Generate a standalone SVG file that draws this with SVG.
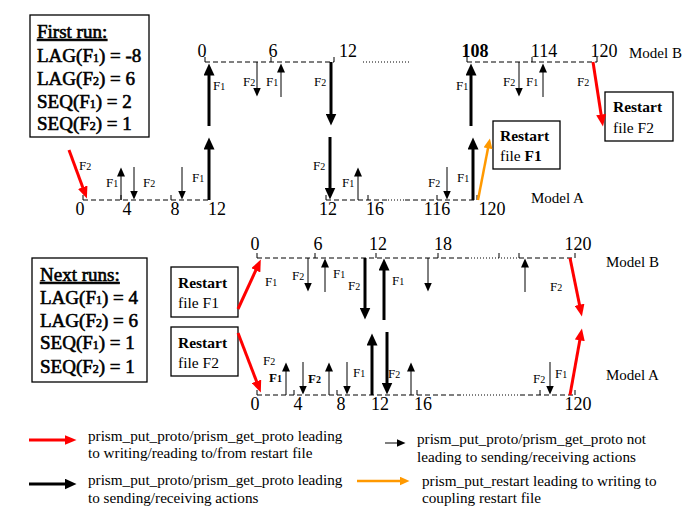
<svg xmlns="http://www.w3.org/2000/svg" width="691" height="518" viewBox="0 0 691 518">
<style>
text{font-family:"Liberation Serif","Times New Roman",serif;fill:#000}
.box{fill:#fff;stroke:#000;stroke-width:1.3}
.bt{font-size:19px;stroke:#000;stroke-width:0.6}
.sub{font-size:12px}
.ax{stroke:#000;stroke-width:1;stroke-dasharray:5,3;fill:none}
.dot{stroke:#000;stroke-width:1;stroke-dasharray:1,2;fill:none}
.tk{stroke:#000;stroke-width:1;fill:none}
.num{font-size:18px;text-anchor:middle}
.lbl{font-size:13px}
.ls{font-size:10px}
.mdl{font-size:15px}
.rs{font-size:15.5px}
.lg{font-size:15.2px}
.thick{stroke:#000;stroke-width:3;fill:none;marker-end:url(#hk)}
.thin{stroke:#000;stroke-width:1;fill:none;marker-end:url(#hn)}
.red{stroke:#f00;stroke-width:3;fill:none;marker-end:url(#hr)}
.org{stroke:#f90;stroke-width:2.5;fill:none;marker-end:url(#ho)}
</style>
<defs>
<marker id="hk" markerUnits="userSpaceOnUse" markerWidth="13" markerHeight="11" refX="0.5" refY="5.5" orient="auto"><path d="M0,0 L12,5.5 L0,11 z" fill="#000"/></marker>
<marker id="hn" markerUnits="userSpaceOnUse" markerWidth="10" markerHeight="8" refX="0.5" refY="4" orient="auto"><path d="M0,0 L9,4 L0,8 z" fill="#000"/></marker>
<marker id="hr" markerUnits="userSpaceOnUse" markerWidth="13" markerHeight="10" refX="0.5" refY="5" orient="auto"><path d="M0,0 L12,5 L0,10 z" fill="#f00"/></marker>
<marker id="ho" markerUnits="userSpaceOnUse" markerWidth="11" markerHeight="9" refX="0.5" refY="4.5" orient="auto"><path d="M0,0 L10,4.5 L0,9 z" fill="#f90"/></marker>
</defs>

<g id="first-run-box">
<rect class="box" x="30" y="15" width="119" height="122"/>
<text class="bt" x="37" y="38" text-decoration="underline">First run:</text>
<text class="bt" x="37" y="62">LAG(F<tspan class="sub">1</tspan>) = -8</text>
<text class="bt" x="37" y="85">LAG(F<tspan class="sub">2</tspan>) = 6</text>
<text class="bt" x="37" y="108">SEQ(F<tspan class="sub">1</tspan>) = 2</text>
<text class="bt" x="37" y="130">SEQ(F<tspan class="sub">2</tspan>) = 1</text>
</g>

<g id="next-runs-box">
<rect class="box" x="32" y="258" width="115" height="124"/>
<text class="bt" x="40" y="281" text-decoration="underline">Next runs:</text>
<text class="bt" x="40" y="304">LAG(F<tspan class="sub">1</tspan>) = 4</text>
<text class="bt" x="40" y="327">LAG(F<tspan class="sub">2</tspan>) = 6</text>
<text class="bt" x="40" y="349">SEQ(F<tspan class="sub">1</tspan>) = 1</text>
<text class="bt" x="40" y="373">SEQ(F<tspan class="sub">2</tspan>) = 1</text>
</g>

<g id="restart-f1-top">
<rect class="box" x="493" y="121" width="67" height="48"/>
<text class="rs" x="500" y="141" font-weight="bold">Restart</text>
<text class="rs" x="500" y="161">file <tspan font-weight="bold">F1</tspan></text>
</g>
<g id="restart-f2-top">
<rect class="box" x="605" y="92" width="68" height="49"/>
<text class="rs" x="613" y="112" font-weight="bold">Restart</text>
<text class="rs" x="613" y="133">file F2</text>
</g>
<g id="restart-f1-bottom">
<rect class="box" x="171" y="267" width="67" height="50"/>
<text class="rs" x="178" y="288" font-weight="bold">Restart</text>
<text class="rs" x="178" y="308">file F1</text>
</g>
<g id="restart-f2-bottom">
<rect class="box" x="171" y="327" width="67" height="49"/>
<text class="rs" x="178" y="348" font-weight="bold">Restart</text>
<text class="rs" x="178" y="368">file F2</text>
</g>

<g id="axis-top-b">
<line class="ax" x1="205" y1="62" x2="334" y2="62"/>
<line class="dot" x1="363" y1="62" x2="410" y2="62"/>
<line class="ax" x1="467" y1="62" x2="597" y2="62"/>
<path class="tk" d="M205,57V62M271,57V62M334,57V62M467,57V62M532,57V62M597,57V62"/>
<text class="num" x="202" y="57">0</text>
<text class="num" x="273" y="57">6</text>
<text class="num" x="348" y="57">12</text>
<text class="num" x="475" y="57" font-weight="bold">108</text>
<text class="num" x="544" y="57">114</text>
<text class="num" x="604" y="57">120</text>
<text class="mdl" x="629" y="58">Model B</text>
</g>

<g id="axis-top-a">
<line class="ax" x1="83" y1="200" x2="209" y2="200"/>
<line class="ax" x1="326" y1="200" x2="388" y2="200"/>
<line class="dot" x1="388" y1="200" x2="405" y2="200"/>
<line class="ax" x1="405" y1="200" x2="477" y2="200"/>
<path class="tk" d="M83,195V200M121,195V200M171,195V200M209,195V200M326,195V200M368,195V200M437,195V200M477,195V200"/>
<text class="num" x="80" y="215">0</text>
<text class="num" x="127" y="215">4</text>
<text class="num" x="175" y="215">8</text>
<text class="num" x="217" y="215">12</text>
<text class="num" x="328" y="215">12</text>
<text class="num" x="375" y="215">16</text>
<text class="num" x="437" y="215">116</text>
<text class="num" x="492" y="215">120</text>
<text class="mdl" x="531" y="203">Model A</text>
</g>

<g id="axis-bottom-b">
<line class="ax" x1="257" y1="258" x2="468" y2="258"/>
<line class="dot" x1="468" y1="258" x2="519" y2="258"/>
<line class="ax" x1="519" y1="258" x2="575" y2="258"/>
<path class="tk" d="M257,253V258M315,253V258M376,253V258M438,253V258M499,253V258M519,253V258M575,253V258"/>
<text class="num" x="255" y="250">0</text>
<text class="num" x="318" y="250">6</text>
<text class="num" x="378" y="250">12</text>
<text class="num" x="443" y="250">18</text>
<text class="num" x="578" y="250">120</text>
<text class="mdl" x="606" y="267">Model B</text>
</g>

<g id="axis-bottom-a">
<line class="ax" x1="257" y1="395" x2="460" y2="395"/>
<line class="dot" x1="460" y1="395" x2="520" y2="395"/>
<line class="ax" x1="520" y1="395" x2="575" y2="395"/>
<path class="tk" d="M257,390V395M294,390V395M337,390V395M372,390V395M417,390V395M540,390V395M575,390V395"/>
<text class="num" x="255" y="410">0</text>
<text class="num" x="298" y="410">4</text>
<text class="num" x="341" y="410">8</text>
<text class="num" x="380" y="410">12</text>
<text class="num" x="423" y="410">16</text>
<text class="num" x="578" y="410">120</text>
<text class="mdl" x="606" y="380">Model A</text>
</g>

<g id="connectors">
<line class="thick" x1="209" y1="200" x2="209" y2="149"/>
<line class="thick" x1="209" y1="126" x2="209" y2="75"/>
<line class="thick" x1="331" y1="62" x2="331" y2="114"/>
<line class="thick" x1="330" y1="137" x2="330" y2="188"/>
<line class="thick" x1="473" y1="200" x2="473" y2="149"/>
<line class="thick" x1="471" y1="126" x2="471" y2="75"/>
<line class="thin" x1="257" y1="62" x2="257" y2="88"/>
<line class="thin" x1="281" y1="97" x2="281" y2="72"/>
<line class="thin" x1="121" y1="200" x2="121" y2="176"/>
<line class="thin" x1="134" y1="167" x2="134" y2="191"/>
<line class="thin" x1="182" y1="167" x2="182" y2="191"/>
<line class="thin" x1="358" y1="200" x2="358" y2="176"/>
<line class="thin" x1="447" y1="167" x2="447" y2="191"/>
<line class="thin" x1="519" y1="62" x2="519" y2="88"/>
<line class="thin" x1="543" y1="97" x2="543" y2="72"/>
<line class="red" x1="69" y1="150" x2="82.9" y2="187.7"/>
<line class="red" x1="593" y1="62" x2="601.2" y2="115.1"/>
<line class="org" x1="478" y1="200" x2="488.1" y2="147.8"/>
<line class="red" x1="238" y1="309" x2="256" y2="269.9"/>
<line class="red" x1="238" y1="333" x2="256.7" y2="381.8"/>
<line class="red" x1="570" y1="258" x2="579.6" y2="305.2"/>
<line class="red" x1="570" y1="395" x2="579.9" y2="339.8"/>
<line class="thin" x1="308" y1="258" x2="308" y2="283"/>
<line class="thin" x1="325" y1="292" x2="325" y2="267"/>
<line class="thin" x1="428" y1="258" x2="428" y2="283"/>
<line class="thin" x1="525" y1="292" x2="525" y2="267"/>
<line class="thin" x1="286" y1="395" x2="286" y2="371"/>
<line class="thin" x1="303" y1="362" x2="303" y2="386"/>
<line class="thin" x1="329" y1="395" x2="329" y2="371"/>
<line class="thin" x1="347" y1="362" x2="347" y2="386"/>
<line class="thin" x1="411" y1="395" x2="411" y2="371"/>
<line class="thin" x1="550" y1="362" x2="550" y2="386"/>
<line class="thick" x1="365" y1="258" x2="365" y2="308"/>
<line class="thick" x1="384" y1="320" x2="384" y2="270"/>
<line class="thick" x1="372" y1="395" x2="372" y2="345"/>
<line class="thick" x1="387" y1="332" x2="387" y2="383"/>
</g>

<g id="arrow-labels">
<text class="lbl" x="213" y="90">F<tspan class="ls">1</tspan></text>
<text class="lbl" x="243" y="86">F<tspan class="ls">2</tspan></text>
<text class="lbl" x="266" y="86">F<tspan class="ls">1</tspan></text>
<text class="lbl" x="314" y="86">F<tspan class="ls">2</tspan></text>
<text class="lbl" x="313" y="170">F<tspan class="ls">2</tspan></text>
<text class="lbl" x="342" y="187">F<tspan class="ls">1</tspan></text>
<text class="lbl" x="106" y="187">F<tspan class="ls">1</tspan></text>
<text class="lbl" x="143" y="187">F<tspan class="ls">2</tspan></text>
<text class="lbl" x="192" y="182">F<tspan class="ls">1</tspan></text>
<text class="lbl" x="79" y="170">F<tspan class="ls">2</tspan></text>
<text class="lbl" x="428" y="187">F<tspan class="ls">2</tspan></text>
<text class="lbl" x="457" y="182">F<tspan class="ls">1</tspan></text>
<text class="lbl" x="456" y="90">F<tspan class="ls">1</tspan></text>
<text class="lbl" x="503" y="86">F<tspan class="ls">2</tspan></text>
<text class="lbl" x="526" y="86">F<tspan class="ls">1</tspan></text>
<text class="lbl" x="577" y="86">F<tspan class="ls">2</tspan></text>
<text class="lbl" x="265" y="286">F<tspan class="ls">1</tspan></text>
<text class="lbl" x="292" y="280">F<tspan class="ls">2</tspan></text>
<text class="lbl" x="333" y="278">F<tspan class="ls">1</tspan></text>
<text class="lbl" x="348" y="290">F<tspan class="ls">2</tspan></text>
<text class="lbl" x="392" y="285">F<tspan class="ls">1</tspan></text>
<text class="lbl" x="550" y="291">F<tspan class="ls">2</tspan></text>
<text class="lbl" x="555" y="378">F<tspan class="ls">1</tspan></text>
<text class="lbl" x="533" y="383">F<tspan class="ls">2</tspan></text>
<text class="lbl" x="263" y="365">F<tspan class="ls">2</tspan></text>
<text class="lbl" x="269" y="382" font-weight="bold">F<tspan class="ls">1</tspan></text>
<text class="lbl" x="308" y="383" font-weight="bold">F<tspan class="ls">2</tspan></text>
<text class="lbl" x="353" y="377">F<tspan class="ls">1</tspan></text>
<text class="lbl" x="388" y="378">F<tspan class="ls">2</tspan></text>
</g>

<g id="legend">
<line class="red" x1="29" y1="440" x2="65" y2="440"/>
<text class="lg" x="88" y="441">prism_put_proto/prism_get_proto leading</text>
<text class="lg" x="88" y="458">to writing/reading to/from restart file</text>
<line class="thick" x1="29" y1="484" x2="65" y2="484" stroke-width="2.5"/>
<text class="lg" x="88" y="485">prism_put_proto/prism_get_proto leading</text>
<text class="lg" x="88" y="503">to sending/receiving actions</text>
<line class="thin" x1="385" y1="443" x2="397" y2="443" stroke-width="1.5"/>
<text class="lg" x="417" y="444">prism_put_proto/prism_get_proto not</text>
<text class="lg" x="417" y="462">leading to sending/receiving actions</text>
<line class="org" x1="357" y1="481" x2="400" y2="481"/>
<text class="lg" x="422" y="486">prism_put_restart leading to writing to</text>
<text class="lg" x="422" y="503">coupling restart file</text>
</g>
</svg>
